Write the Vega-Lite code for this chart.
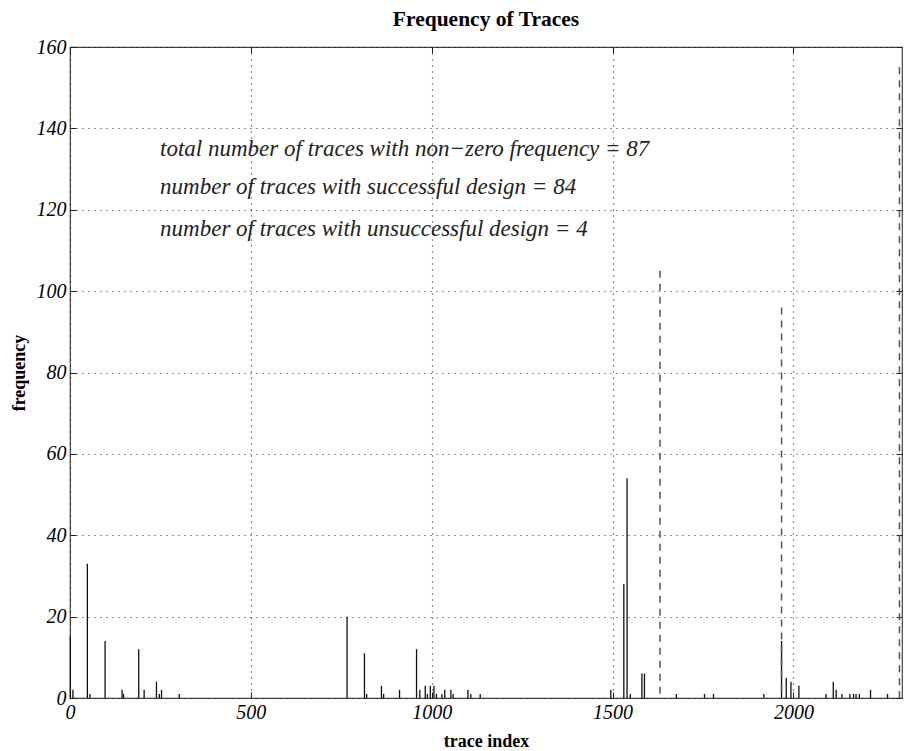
{
  "$schema": "https://vega.github.io/schema/vega-lite/v6.json",
  "width": 832,
  "height": 651,
  "autosize": "none",
  "padding": {"left": 70, "top": 47, "right": 2, "bottom": 53},
  "background": "white",
  "title": {"text": "Frequency of Traces", "font": "Liberation Serif", "fontSize": 21.5, "fontWeight": "bold", "color": "black", "offset": 7},
  "config": {
    "view": {"stroke": "#444", "strokeWidth": 1.2},
    "axis": {
      "labelFont": "Liberation Serif", "labelFontStyle": "italic", "labelFontSize": 20, "labelColor": "black",
      "titleFont": "Liberation Serif", "titleFontWeight": "bold", "titleFontSize": 18, "titleColor": "black",
      "domain": false, "tickColor": "#222", "gridColor": "#000", "gridDash": [1, 5], "gridOpacity": 0.85, "gridWidth": 1.2
    }
  },
  "datasets": {
    "bars": [
      {"trace": 1, "freq": 15, "kind": "success"},
      {"trace": 8, "freq": 2, "kind": "success"},
      {"trace": 48, "freq": 33, "kind": "success"},
      {"trace": 55, "freq": 1, "kind": "success"},
      {"trace": 97, "freq": 14, "kind": "success"},
      {"trace": 144, "freq": 2, "kind": "success"},
      {"trace": 148, "freq": 1, "kind": "success"},
      {"trace": 190, "freq": 12, "kind": "success"},
      {"trace": 205, "freq": 2, "kind": "success"},
      {"trace": 239, "freq": 4, "kind": "success"},
      {"trace": 247, "freq": 1, "kind": "success"},
      {"trace": 253, "freq": 2, "kind": "success"},
      {"trace": 302, "freq": 1, "kind": "success"},
      {"trace": 766, "freq": 20, "kind": "success"},
      {"trace": 814, "freq": 11, "kind": "success"},
      {"trace": 820, "freq": 1, "kind": "success"},
      {"trace": 861, "freq": 3, "kind": "success"},
      {"trace": 867, "freq": 1, "kind": "success"},
      {"trace": 911, "freq": 2, "kind": "success"},
      {"trace": 958, "freq": 12, "kind": "success"},
      {"trace": 967, "freq": 2, "kind": "success"},
      {"trace": 982, "freq": 3, "kind": "success"},
      {"trace": 988, "freq": 1, "kind": "success"},
      {"trace": 996, "freq": 3, "kind": "success"},
      {"trace": 1006, "freq": 3, "kind": "success"},
      {"trace": 1013, "freq": 1, "kind": "success"},
      {"trace": 1028, "freq": 1, "kind": "success"},
      {"trace": 1036, "freq": 2, "kind": "success"},
      {"trace": 1053, "freq": 2, "kind": "success"},
      {"trace": 1059, "freq": 1, "kind": "success"},
      {"trace": 1100, "freq": 2, "kind": "success"},
      {"trace": 1108, "freq": 1, "kind": "success"},
      {"trace": 1134, "freq": 1, "kind": "success"},
      {"trace": 1495, "freq": 2, "kind": "success"},
      {"trace": 1531, "freq": 28, "kind": "success"},
      {"trace": 1540, "freq": 54, "kind": "success"},
      {"trace": 1549, "freq": 1, "kind": "success"},
      {"trace": 1581, "freq": 6, "kind": "success"},
      {"trace": 1588, "freq": 6, "kind": "success"},
      {"trace": 1676, "freq": 1, "kind": "success"},
      {"trace": 1754, "freq": 1, "kind": "success"},
      {"trace": 1779, "freq": 1, "kind": "success"},
      {"trace": 1918, "freq": 1, "kind": "success"},
      {"trace": 1967, "freq": 14, "kind": "success"},
      {"trace": 1980, "freq": 5, "kind": "success"},
      {"trace": 1993, "freq": 4, "kind": "success"},
      {"trace": 2015, "freq": 3, "kind": "success"},
      {"trace": 2090, "freq": 1, "kind": "success"},
      {"trace": 2110, "freq": 4, "kind": "success"},
      {"trace": 2118, "freq": 2, "kind": "success"},
      {"trace": 2134, "freq": 1, "kind": "success"},
      {"trace": 2156, "freq": 1, "kind": "success"},
      {"trace": 2166, "freq": 1, "kind": "success"},
      {"trace": 2173, "freq": 1, "kind": "success"},
      {"trace": 2182, "freq": 1, "kind": "success"},
      {"trace": 2213, "freq": 2, "kind": "success"},
      {"trace": 2260, "freq": 1, "kind": "success"},
      {"trace": 1631, "freq": 105, "kind": "fail"},
      {"trace": 1967, "freq": 96, "kind": "fail"},
      {"trace": 2293, "freq": 155, "kind": "fail"}
    ],
    "notes": [
      {"x": 249, "y": 135, "label": "total number of traces with non−zero frequency = 87"},
      {"x": 249, "y": 125.5, "label": "number of traces with successful design = 84"},
      {"x": 249, "y": 115.3, "label": "number of traces with unsuccessful design = 4"}
    ]
  },
  "layer": [
    {
      "data": {"name": "bars"},
      "transform": [{"filter": "datum.kind === 'success'"}],
      "mark": {"type": "rule", "color": "#111", "strokeWidth": 1.3},
      "encoding": {
        "x": {"field": "trace", "type": "quantitative", "scale": {"domain": [0, 2300], "nice": false, "zero": false},
              "axis": {"orient": "bottom", "values": [0, 500, 1000, 1500, 2000], "format": "d", "grid": true, "tickSize": -6, "labelPadding": 10, "title": "trace index", "titlePadding": 10, "labelFlush": false}},
        "y": {"field": "freq", "type": "quantitative", "scale": {"domain": [0, 160], "nice": false},
              "axis": {"orient": "left", "values": [0, 20, 40, 60, 80, 100, 120, 140, 160], "grid": true, "tickSize": -6, "labelPadding": 10, "title": "frequency", "titlePadding": 8}},
        "y2": {"datum": 0}
      }
    },
    {
      "data": {"name": "bars"},
      "transform": [{"filter": "datum.kind === 'fail'"}],
      "mark": {"type": "rule", "color": "#555", "strokeWidth": 1.5, "strokeDash": [7, 6]},
      "encoding": {
        "x": {"field": "trace", "type": "quantitative",
              "axis": {"orient": "top", "values": [0, 500, 1000, 1500, 2000], "grid": false, "tickSize": -6, "labels": false, "title": null}},
        "y": {"field": "freq", "type": "quantitative",
              "axis": {"orient": "right", "values": [0, 20, 40, 60, 80, 100, 120, 140, 160], "grid": false, "tickSize": -6, "labels": false, "title": null}},
        "y2": {"datum": 0}
      }
    },
    {
      "data": {"name": "notes"},
      "mark": {"type": "text", "align": "left", "baseline": "middle", "font": "Liberation Serif", "fontStyle": "italic", "fontSize": 23, "color": "#222"},
      "encoding": {
        "x": {"field": "x", "type": "quantitative", "axis": null},
        "y": {"field": "y", "type": "quantitative", "axis": null},
        "text": {"field": "label"}
      }
    }
  ]
}
